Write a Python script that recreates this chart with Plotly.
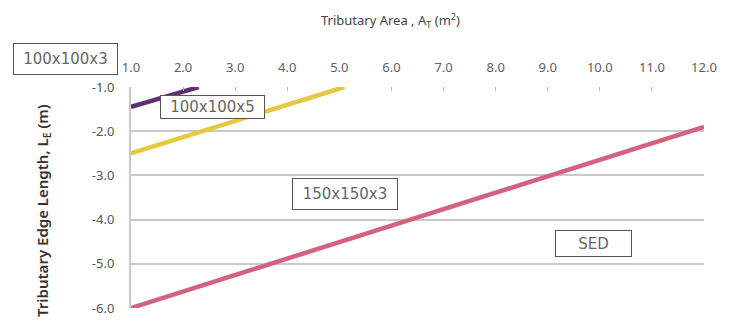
import plotly.graph_objects as go

# Tributary area (m^2) vs tributary edge length (m) for each section
area_100x100x3 = [1.0, 2.3]
edge_100x100x3 = [-1.45, -1.0]

area_100x100x5 = [1.0, 5.1]
edge_100x100x5 = [-2.5, -1.0]

area_150x150x3 = [1.0, 12.0]
edge_150x150x3 = [-6.0, -1.9]

x_ticks = [1.0, 2.0, 3.0, 4.0, 5.0, 6.0, 7.0, 8.0, 9.0, 10.0, 11.0, 12.0]
y_ticks = [-1.0, -2.0, -3.0, -4.0, -5.0, -6.0]
y_tick_text = ["-1.0", "-2.0", "-3.0", "-4.0", "-5.0", "-6.0"]

series = [
    ("100x100x3", area_100x100x3, edge_100x100x3, "#5e3070"),
    ("100x100x5", area_100x100x5, edge_100x100x5, "#e5c93e"),
    ("150x150x3", area_150x150x3, edge_150x150x3, "#d3627f"),
]

fig = go.Figure()
for name, xs, ys, color in series:
    fig.add_trace(go.Scatter(x=xs, y=ys, mode="lines", name=name,
                             line=dict(color=color, width=4.5), cliponaxis=False))

font_main = "Noto Sans"
box_font = "DejaVu Sans"


def label_box(text, x, y, w, h, **kw):
    return dict(text=text, x=x, y=y, xanchor="center", yanchor="middle",
                showarrow=False, width=w, height=h, align="center", valign="middle",
                bordercolor="#555555", borderwidth=1, borderpad=2, bgcolor="white",
                font=dict(family=box_font, size=15, color="#666666"), **kw)


fig.update_layout(
    width=729, height=329,
    margin=dict(l=131, r=13, t=87, b=14),
    paper_bgcolor="white", plot_bgcolor="white",
    showlegend=False,
    font=dict(family=font_main, size=13, color="#555555"),
    xaxis=dict(
        range=[1.0, 12.0], side="top", tickvals=x_ticks, tickformat=".1f",
        showgrid=False, zeroline=False,
        showline=False, ticks="inside", ticklen=4, tickcolor="#bbbbbb",
        ticklabelstandoff=11, tickfont=dict(size=13, color="#606060"),
    ),
    yaxis=dict(
        range=[-6.0, -1.0], tickvals=y_ticks, ticktext=y_tick_text,
        showgrid=True, gridcolor="#c9c9c9", gridwidth=2, zeroline=False,
        showline=True, linecolor="#c9c9c9", linewidth=2,
        ticks="", ticklabelstandoff=12, tickfont=dict(size=13, color="#555555"),
    ),
    annotations=[
        dict(text="Tributary Area , A<sub>T</sub> (m<sup>2</sup>)", xref="paper", yref="paper",
             x=0.453, y=1.0, yshift=67, xanchor="center", yanchor="middle", showarrow=False,
             font=dict(size=13, color="#444444")),
        dict(text="Tributary Edge Length, L<sub>E</sub> (m)", xref="paper", yref="paper",
             x=0, xshift=-88, y=0.439, xanchor="center", yanchor="middle",
             textangle=-90, showarrow=False,
             font=dict(size=15, color="#333333", weight=600)),
        label_box("100x100x3", 0, 1.0, 99, 26, xref="paper", yref="paper",
                  xshift=-66, yshift=28),
        label_box("100x100x5", 2.56, -1.46, 99, 18),
        label_box("150x150x3", 5.10, -3.43, 100, 26),
        label_box("SED", 9.87, -4.53, 71, 21),
    ],
)

fig.write_html("out.html")
